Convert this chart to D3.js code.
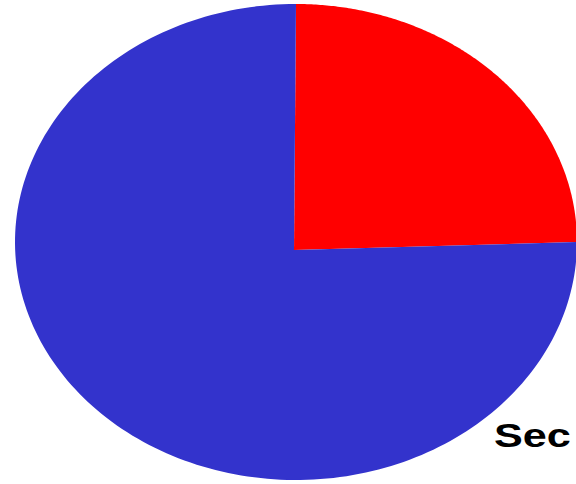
<!DOCTYPE html>
<html><head><meta charset="utf-8">
<script src="https://cdn.jsdelivr.net/npm/d3@7"></script>
<style>html,body{margin:0;padding:0;background:#fff;overflow:hidden}</style>
</head><body>
<svg id="c" width="576" height="484"></svg>
<script>
const categories = ["First", "Second"];
const values = [25, 75];
const colors = ["#ff0000", "#3333cc"];
const labels = ["Sec"];

const svg = d3.select("#c");
const cx = 296, cy = 242, rx = 281, ry = 238;
const vx = 294, vy = 250;

const pie = d3.pie().sort(null).value(d => d)(values);
const line = d3.line();

pie.forEach((s, i) => {
  const n = 200;
  const pts = [[vx, vy]];
  for (let k = 0; k <= n; k++) {
    const a = s.startAngle + (s.endAngle - s.startAngle) * k / n;
    pts.push([cx + rx * Math.sin(a), cy - ry * Math.cos(a)]);
  }
  svg.append("path")
    .attr("d", line(pts) + "Z")
    .attr("fill", colors[i]);
});

svg.append("text")
  .attr("transform", `translate(494,447) scale(1.27,1)`)
  .attr("font-family", "Liberation Sans, Arial, sans-serif")
  .attr("font-weight", "bold")
  .attr("font-size", 34)
  .attr("fill", "#000")
  .text(labels[0]);
</script>
</body></html>
